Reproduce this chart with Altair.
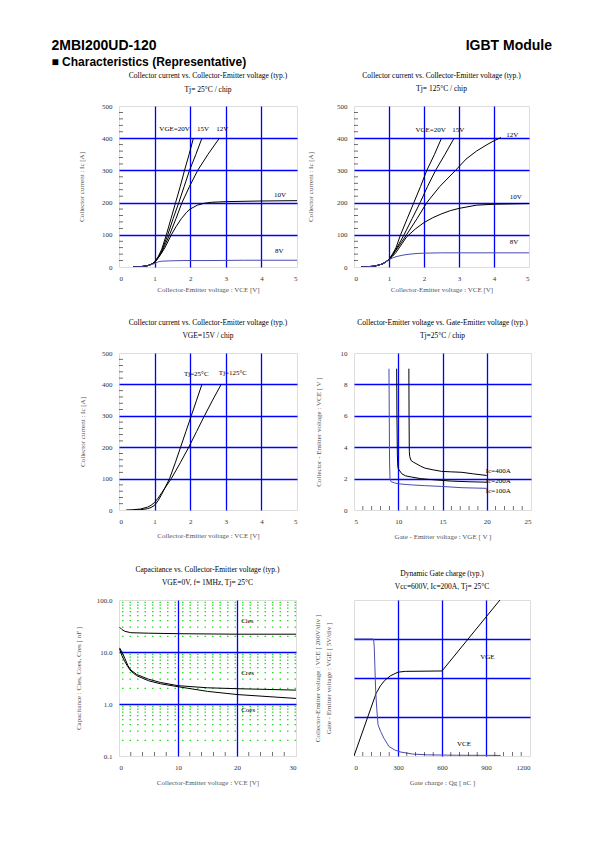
import altair as alt
import pandas as pd

SERIF = "Liberation Serif"
SANS = "Liberation Sans"
BLUE = "#0000ff"
SLATE = "#4b4bb0"
GRAY = "#808080"

# ---------------- Chart 1 : Ic vs VCE, Tj=25C ----------------
c1_20_x = [0.4, 0.6, 0.8, 0.9, 1.0, 1.1, 1.2, 1.33, 1.46, 1.59, 1.72, 1.84, 1.97, 2.09]
c1_20_y = [0, 1, 4, 8, 15, 32, 55, 100, 150, 200, 250, 300, 350, 400]
c1_15_x = [0.4, 0.6, 0.8, 0.9, 1.0, 1.1, 1.2, 1.37, 1.52, 1.68, 1.83, 1.98, 2.16, 2.33]
c1_15_y = [0, 1, 4, 8, 15, 30, 50, 100, 150, 200, 250, 300, 350, 400]
c1_12_x = [0.4, 0.6, 0.8, 0.9, 1.0, 1.1, 1.2, 1.42, 1.6, 1.77, 1.98, 2.21, 2.5, 2.82]
c1_12_y = [0, 1, 4, 8, 14, 28, 46, 100, 150, 200, 250, 300, 350, 400]
c1_10_x = [0.4, 0.6, 0.8, 0.9, 1.0, 1.1, 1.2, 1.3, 1.47, 1.6, 1.75, 1.9, 2.0, 2.2, 2.4, 2.6, 2.8, 3.0, 4.0, 5.0]
c1_10_y = [0, 1, 4, 8, 14, 28, 44, 62, 100, 125, 150, 170, 180, 192, 198, 201, 202, 203, 205, 206]
c1_8_x = [0.4, 0.6, 0.8, 0.9, 1.0, 1.1, 1.2, 1.4, 1.8, 2.5, 3.5, 5.0]
c1_8_y = [0, 1, 4, 7, 11, 16, 18, 19, 20, 20, 21, 21]
c1_lab_t = ["VGE=20V", "15V", "12V", "10V", "8V"]
c1_lab_x = [1.56, 2.36, 2.9, 4.52, 4.5]
c1_lab_y = [430, 430, 428, 224, 50]

# ---------------- Chart 2 : Ic vs VCE, Tj=125C ----------------
c2_20_x = [0.2, 0.4, 0.6, 0.8, 0.9, 1.0, 1.1, 1.2, 1.33, 1.52, 1.71, 1.9, 2.08, 2.3, 2.5]
c2_20_y = [0, 1, 3, 9, 15, 24, 40, 60, 100, 150, 200, 250, 300, 350, 400]
c2_15_x = [0.2, 0.4, 0.6, 0.8, 0.9, 1.0, 1.1, 1.2, 1.43, 1.66, 1.89, 2.1, 2.33, 2.6, 2.86]
c2_15_y = [0, 1, 3, 9, 15, 24, 38, 55, 100, 150, 200, 250, 300, 350, 400]
c2_12_x = [0.2, 0.4, 0.6, 0.8, 0.9, 1.0, 1.1, 1.2, 1.5, 1.8, 2.08, 2.45, 2.9, 3.2, 3.5, 3.8, 4.0, 4.2]
c2_12_y = [0, 1, 3, 9, 15, 24, 36, 52, 100, 150, 200, 250, 300, 335, 360, 380, 392, 402]
c2_10_x = [0.2, 0.4, 0.6, 0.8, 0.9, 1.0, 1.1, 1.2, 1.5, 1.75, 2.0, 2.25, 2.5, 2.75, 3.0, 3.5, 4.0, 5.0]
c2_10_y = [0, 1, 3, 9, 15, 23, 33, 45, 93, 118, 138, 153, 165, 175, 182, 192, 195, 197]
c2_8_x = [0.2, 0.4, 0.6, 0.8, 0.9, 1.0, 1.1, 1.2, 1.4, 1.6, 1.8, 2.0, 2.5, 3.0, 4.0, 5.0]
c2_8_y = [0, 1, 3, 9, 15, 22, 28, 32, 37, 40, 42, 43, 44, 44, 44, 44]
c2_lab_t = ["VGE=20V", "15V", "12V", "10V", "8V"]
c2_lab_x = [2.19, 2.98, 4.52, 4.62, 4.57]
c2_lab_y = [425, 425, 410, 218, 77]

# ---------------- Chart 3 : Ic vs VCE, VGE=15V ----------------
c3_25_x = [0.4, 0.6, 0.8, 0.9, 1.0, 1.1, 1.2, 1.42, 1.58, 1.73, 1.88, 2.03, 2.18, 2.33]
c3_25_y = [0, 1, 4, 8, 15, 30, 50, 100, 150, 200, 250, 300, 350, 400]
c3_125_x = [0.2, 0.4, 0.6, 0.8, 0.9, 1.0, 1.1, 1.2, 1.47, 1.72, 1.96, 2.18, 2.4, 2.63, 2.87]
c3_125_y = [0, 1, 3, 9, 15, 24, 38, 55, 100, 150, 200, 250, 300, 350, 400]
c3_lab_t = ["Tj=25°C", "Tj=125°C"]
c3_lab_x = [2.17, 3.2]
c3_lab_y = [434, 436]

# ---------------- Chart 4 : VCE vs VGE ----------------
c4_100_x = [8.95, 8.98, 9.02, 9.07, 9.2, 9.6, 10.0, 11.0, 11.5, 13.0, 14.9, 17.2, 20.0]
c4_100_y = [9.0, 6.5, 3.0, 1.98, 1.8, 1.72, 1.67, 1.62, 1.6, 1.55, 1.5, 1.42, 1.38]
c4_200_x = [9.82, 9.85, 9.9, 9.95, 10.0, 10.4, 10.8, 11.5, 12.5, 13.4, 16.0, 18.0, 20.0]
c4_200_y = [9.0, 6.0, 3.5, 2.8, 2.63, 2.31, 2.18, 2.1, 2.0, 1.95, 1.84, 1.8, 1.77]
c4_400_x = [11.2, 11.22, 11.25, 11.3, 11.45, 11.7, 11.9, 12.5, 13.0, 14.0, 14.9, 16.0, 17.2, 18.5, 20.0]
c4_400_y = [9.0, 6.0, 3.73, 3.4, 3.15, 3.05, 2.99, 2.8, 2.67, 2.55, 2.46, 2.43, 2.4, 2.3, 2.2]
c4_lab_t = ["Ic=400A", "Ic=200A", "Ic=100A"]
c4_lab_x = [19.9, 19.9, 19.9]
c4_lab_y = [2.46, 1.82, 1.24]

# ---------------- Chart 5 : Capacitance vs VCE ----------------
c5_cies_x = [0.1, 0.5, 1, 2, 5, 10, 20, 30]
c5_cies_y = [30, 27, 25, 23.5, 23, 22.5, 22, 22]
c5_cres_x = [0.1, 0.5, 1, 1.5, 2, 3, 5, 7, 10, 15, 20, 30]
c5_cres_y = [12, 10, 7.5, 5.5, 4.5, 3.7, 3.0, 2.6, 2.25, 2.05, 1.97, 1.85]
c5_coes_x = [0.1, 0.5, 1, 1.5, 2, 3, 5, 7, 10, 15, 20, 30]
c5_coes_y = [11.5, 8.5, 6.5, 5.2, 4.3, 3.5, 2.8, 2.45, 2.15, 1.75, 1.52, 1.28]
c5_minor = [0.2, 0.3, 0.4, 0.5, 0.6, 0.7, 0.8, 0.9, 2, 3, 4, 5, 6, 7, 8, 9, 20, 30, 40, 50, 60, 70, 80, 90]
c5_lab_t = ["Cies", "Cres", "Coes"]
c5_lab_x = [20.7, 20.7, 20.7]
c5_lab_y = [39, 3.87, 0.77]

# ---------------- Chart 6 : Dynamic gate charge ----------------
c6_vge_q = [0, 150, 180, 210, 250, 300, 350, 600, 995]
c6_vge_v = [0, 8.0, 9.0, 9.7, 10.3, 10.75, 10.85, 10.9, 20.0]
c6_vce_q = [0, 133, 138, 148, 155, 164, 182, 205, 239, 280, 320, 400, 500, 700, 1000]
c6_vce_v = [600, 600, 560, 330, 245, 160, 125, 90, 48, 30, 20, 10, 6, 4, 3]
c6_lab_t = ["VGE", "VCE"]
c6_lab_x = [909, 750]
c6_lab_y = [2.54, 0.3]   # in divisions
VCE_PER_DIV = 200
VGE_PER_DIV = 5

# ---------------- Header ----------------
hdr_text = ["2MBI200UD-120", "IGBT Module", "\u25a0 Characteristics (Representative)"]

TITLE_OFFSET = 9
TITLE_LH = 13.4


def lines_df(series):
    rows = []
    for name, xs, ys in series:
        for i, (x, y) in enumerate(zip(xs, ys)):
            rows.append({"s": name, "x": x, "y": y, "i": i})
    return pd.DataFrame(rows)


def make_axis(title, values, lo, hi, fmt, pad, labels=True):
    return alt.Axis(
        title=title, values=values, format=fmt, labels=labels,
        grid=True, gridColor=BLUE, gridWidth=1.3,
        gridOpacity={"condition": {"test": f"datum.value <= {lo} || datum.value >= {hi}", "value": 0}, "value": 1},
        ticks=False, domain=False,
        labelFont=SERIF, labelFontSize=7, labelColor="#333", labelPadding=7,
        titleFont=SERIF, titleFontSize=7, titleFontWeight="normal", titleColor="#555",
        titlePadding=pad, titleLineHeight=11,
    )


def text_layer(texts, xs_px, ys_px, font, size, weight, align):
    return alt.Chart(pd.DataFrame({"t": texts, "px": xs_px, "py": ys_px})).mark_text(
        font=font, fontSize=size, fontWeight=weight, align=align, baseline="alphabetic", color="black"
    ).encode(text="t:N", x=alt.X("px:Q", scale=None, axis=None), y=alt.Y("py:Q", scale=None, axis=None))


def panel(series, colors, xdom, ydom, xvals, yvals, xfmt, yfmt, xtitle, ytitle,
          title, w, h, xpad, ypad, labels, align="center", ylog=False,
          ylabels=True, yminor=None, xminor=None, green=None, extra=(), title_as_text=False):
    xs = alt.Scale(domain=xdom, nice=False, zero=False)
    ys = alt.Scale(domain=ydom, nice=False, zero=False, type="log" if ylog else "linear")
    xa = make_axis(xtitle, xvals, xdom[0], xdom[1], xfmt, xpad)
    ya = make_axis(ytitle, yvals, ydom[0], ydom[1], yfmt, ypad, ylabels)
    layers = []
    if green is not None:
        layers.append(
            alt.Chart(pd.DataFrame({"y": green})).mark_rule(
                color="#22dd22", strokeWidth=1.2, strokeDash=[1.5, 6]
            ).encode(y=alt.Y("y:Q", scale=ys, axis=ya))
        )
    df = lines_df(series)
    layers.append(
        alt.Chart(df).mark_line(strokeWidth=1, clip=True).encode(
            x=alt.X("x:Q", scale=xs, axis=xa),
            y=alt.Y("y:Q", scale=ys, axis=ya),
            color=alt.Color("s:N", scale=alt.Scale(domain=list(colors.keys()), range=list(colors.values())), legend=None),
            order=alt.Order("i:Q"),
        )
    )
    t, lx, ly = labels
    layers.append(
        alt.Chart(pd.DataFrame({"t": t, "x": lx, "y": ly})).mark_text(
            font=SERIF, fontSize=7, align=align, baseline="middle", color="black"
        ).encode(x=alt.X("x:Q", scale=xs, axis=xa), y=alt.Y("y:Q", scale=ys, axis=ya), text="t:N")
    )
    if yminor is not None:
        layers.append(
            alt.Chart(pd.DataFrame({"y": yminor})).mark_tick(
                orient="horizontal", size=4, thickness=0.8, color="black"
            ).encode(y=alt.Y("y:Q", scale=ys, axis=ya), x=alt.value(2))
        )
    if xminor is not None:
        layers.append(
            alt.Chart(pd.DataFrame({"x": xminor})).mark_tick(
                orient="vertical", size=4, thickness=0.8, color="black"
            ).encode(x=alt.X("x:Q", scale=xs, axis=xa), y=alt.value(h - 2))
        )
    layers.extend(extra)
    props = dict(width=w, height=h)
    if title_as_text:
        base = -14.5
        layers.append(text_layer(title, [w / 2, w / 2], [base - TITLE_LH, base], SERIF, 7.5, "normal", "center"))
    else:
        props["title"] = alt.TitleParams(text=title, font=SERIF, fontSize=7.5, fontWeight="normal",
                                         color="black", lineHeight=TITLE_LH, offset=TITLE_OFFSET, anchor="middle")
    return alt.layer(*layers).properties(**props)


ic_minor = [v for v in range(20, 500, 20) if v % 100]
vce_title = "Collector-Emitter voltage : VCE [V]"
ic_title = "Collector current : Ic [A]"

header = [
    text_layer([hdr_text[0]], [-67.5], [-56], SANS, 14, "bold", "left"),
    text_layer([hdr_text[1]], [433], [-56], SANS, 14, "bold", "right"),
    text_layer([hdr_text[2]], [-67.5], [-40.5], SANS, 12, "bold", "left"),
]

c1 = panel(
    [("20", c1_20_x, c1_20_y), ("15", c1_15_x, c1_15_y), ("12", c1_12_x, c1_12_y),
     ("10", c1_10_x, c1_10_y), ("8", c1_8_x, c1_8_y)],
    {"20": "black", "15": "black", "12": "black", "10": "black", "8": SLATE},
    [0, 5], [0, 500], [0, 1, 2, 3, 4, 5], [0, 100, 200, 300, 400, 500], "d", "d",
    vce_title, ic_title,
    ["Collector current vs. Collector-Emitter voltage (typ.)", "Tj= 25°C / chip"],
    178, 161, 4, 17, (c1_lab_t, c1_lab_x, c1_lab_y), yminor=ic_minor, extra=header,
    title_as_text=True,
)
c2 = panel(
    [("20", c2_20_x, c2_20_y), ("15", c2_15_x, c2_15_y), ("12", c2_12_x, c2_12_y),
     ("10", c2_10_x, c2_10_y), ("8", c2_8_x, c2_8_y)],
    {"20": "black", "15": "black", "12": "black", "10": "black", "8": SLATE},
    [0, 5], [0, 500], [0, 1, 2, 3, 4, 5], [0, 100, 200, 300, 400, 500], "d", "d",
    vce_title, ic_title,
    ["Collector current vs. Collector-Emitter voltage (typ.)", "Tj= 125°C / chip"],
    175, 161, 4.5, 23, (c2_lab_t, c2_lab_x, c2_lab_y), yminor=ic_minor,
)
c3 = panel(
    [("25", c3_25_x, c3_25_y), ("125", c3_125_x, c3_125_y)],
    {"25": "black", "125": "black"},
    [0, 5], [0, 500], [0, 1, 2, 3, 4, 5], [0, 100, 200, 300, 400, 500], "d", "d",
    vce_title, ic_title,
    ["Collector current vs. Collector-Emitter voltage (typ.)", "VGE=15V   / chip"],
    178, 157, 7, 16, (c3_lab_t, c3_lab_x, c3_lab_y), yminor=ic_minor,
)
c4 = panel(
    [("400", c4_400_x, c4_400_y), ("200", c4_200_x, c4_200_y), ("100", c4_100_x, c4_100_y)],
    {"400": "black", "200": "#333333", "100": GRAY},
    [5, 25], [0, 10], [5, 10, 15, 20, 25], [0, 2, 4, 6, 8, 10], "d", "d",
    "Gate - Emitter voltage  :  VGE  [ V ]", "Collector - Emitter voltage  :  VCE  [ V ]",
    ["Collector-Emitter voltage  vs. Gate-Emitter voltage (typ.)", "Tj=25°C / chip"],
    177, 157, 8, 19, (c4_lab_t, c4_lab_x, c4_lab_y), align="left",
    xminor=[v for v in range(6, 25) if v % 5],
)
c5 = panel(
    [("Cies", c5_cies_x, c5_cies_y), ("Cres", c5_cres_x, c5_cres_y), ("Coes", c5_coes_x, c5_coes_y)],
    {"Cies": SLATE, "Cres": "black", "Coes": "#222222"},
    [0, 30], [0.1, 100], [0, 10, 20, 30], [0.1, 1, 10, 100], "d", ".1f",
    vce_title, "Capacitance  :  Cies, Coes, Cres  [ nF ]",
    ["Capacitance  vs.  Collector-Emitter voltage  (typ.)", "VGE=0V,  f= 1MHz,  Tj= 25°C"],
    177, 156, 8, 15, (c5_lab_t, c5_lab_x, c5_lab_y), align="left", ylog=True,
    xminor=[v for v in range(2, 30, 2) if v % 10], green=c5_minor,
)
c6 = panel(
    [("VGE", c6_vge_q, [v / VGE_PER_DIV for v in c6_vge_v]),
     ("VCE", c6_vce_q, [v / VCE_PER_DIV for v in c6_vce_v])],
    {"VGE": "black", "VCE": SLATE},
    [0, 1200], [0, 4], [0, 300, 600, 900, 1200], [0, 1, 2, 3, 4], "d", "d",
    "Gate charge  :  Qg  [ nC ]",
    ["Collector-Emitter voltage : VCE [ 200V/div ]", "Gate - Emitter voltage  :  VGE        [ 5V/div ]"],
    ["Dynamic Gate charge  (typ.)", "Vcc=600V, Ic=200A, Tj= 25°C"],
    176, 156, 8, 23, (c6_lab_t, c6_lab_x, c6_lab_y), ylabels=False,
    xminor=[v for v in range(60, 1200, 60) if v % 300],
)

chart = alt.concat(
    c1, c2, c3, c4, c5, c6, columns=2, bounds="flush", align="all",
    spacing={"row": 86, "column": 57},
).properties(
    padding={"left": 43, "top": 30, "right": 5, "bottom": 5}
).configure_view(stroke="black", strokeWidth=1.2, fill="white").configure(background="white")

chart.save("out.html", embed_options={"renderer": "svg", "actions": False})
